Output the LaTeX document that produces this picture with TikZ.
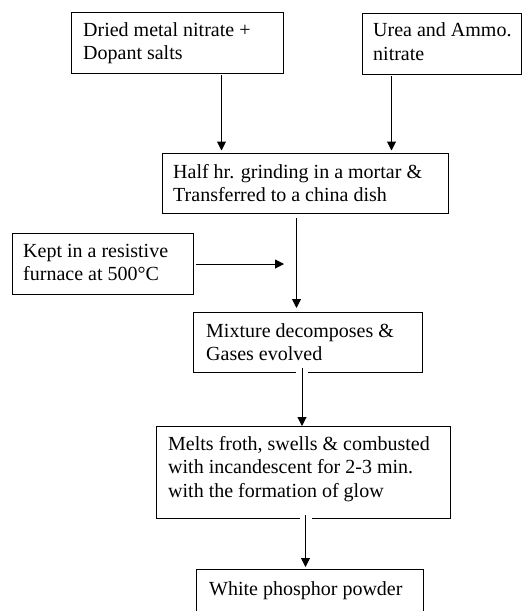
\documentclass[tikz,border=0pt]{standalone}
\usepackage{fontspec}
\setmainfont{Liberation Serif}
\usetikzlibrary{arrows.meta}
\tikzset{
  box/.style={draw=black, line width=1pt, inner sep=0pt, anchor=north west},
  txt/.style={font=\fontsize{20}{23.5}\selectfont, align=left, inner sep=0pt, anchor=base west},
  arr/.style={draw=black, line width=1pt, -{Triangle[width=9pt,length=9pt]}},
  halo/.style={preaction={draw=white, line width=12pt, -}}
}
\begin{document}
\begin{tikzpicture}[x=1pt, y=-1pt]
\useasboundingbox (0,0) rectangle (522,611);
\clip (0,0) rectangle (522,611);
% boxes
\node[box, minimum width=212pt, minimum height=61pt] (dried) at (71,12) {};
\node[box, minimum width=159pt, minimum height=61pt] (urea) at (362,13) {};
\node[box, minimum width=286pt, minimum height=60pt] (half) at (162,153) {};
\node[box, minimum width=181pt, minimum height=61pt] (kept) at (12,233) {};
\node[box, minimum width=229pt, minimum height=60pt] (mix) at (193,312) {};
\node[box, minimum width=294pt, minimum height=92pt] (melts) at (156,426) {};
\node[box, minimum width=227pt, minimum height=60pt] (white) at (196,569) {};
% texts (base anchor = baseline of the last line)
\node[txt] (driedt) at ([shift={(12,47.5)}]dried.north west) {Dried metal nitrate +\\Dopant salts};
\node[txt] (ureat) at ([shift={(11,47)}]urea.north west) {Urea and Ammo.\\nitrate};
\node[txt] (halft) at ([shift={(11,48.5)}]half.north west) {Half hr. grinding in a mortar \&\\Transferred to a china dish};
\node[txt] (keptt) at ([shift={(11,47.5)}]kept.north west) {Kept in a resistive\\furnace at 500°C};
\node[txt] (mixt) at ([shift={(13,48.5)}]mix.north west) {Mixture decomposes \&\\Gases evolved};
\node[txt] (meltst) at ([shift={(12,71)}]melts.north west) {Melts froth, swells \& combusted\\with incandescent for 2-3 min.\\with the formation of glow};
\node[txt] (whitet) at ([shift={(13,26)}]white.north west) {White phosphor powder};
% connectors
\coordinate (kend) at ([xshift=90pt]kept.east);
\draw[arr, shorten <=1pt, shorten >=2.5pt] ([xshift=44pt]dried.south) -- ([xshift=44pt]dried.south |- half.north);
\draw[arr, shorten <=1pt, shorten >=2.5pt] ([xshift=-50.5pt]urea.south) -- ([xshift=-50.5pt]urea.south |- half.north);
\draw[arr, shorten <=4pt, shorten >=4pt] ([xshift=-9pt]half.south) -- ([xshift=-9pt]half.south |- mix.north);
\draw[arr, shorten <=2pt] (kept.east) -- (kend);
\draw[arr, halo, shorten <=-5pt] ([xshift=-6pt]mix.south) -- ([xshift=-6pt]mix.south |- melts.north);
\draw[arr, halo, shorten <=-4pt, shorten >=2pt] ([xshift=2pt]melts.south) -- ([xshift=2pt]melts.south |- white.north);
\end{tikzpicture}
\end{document}
